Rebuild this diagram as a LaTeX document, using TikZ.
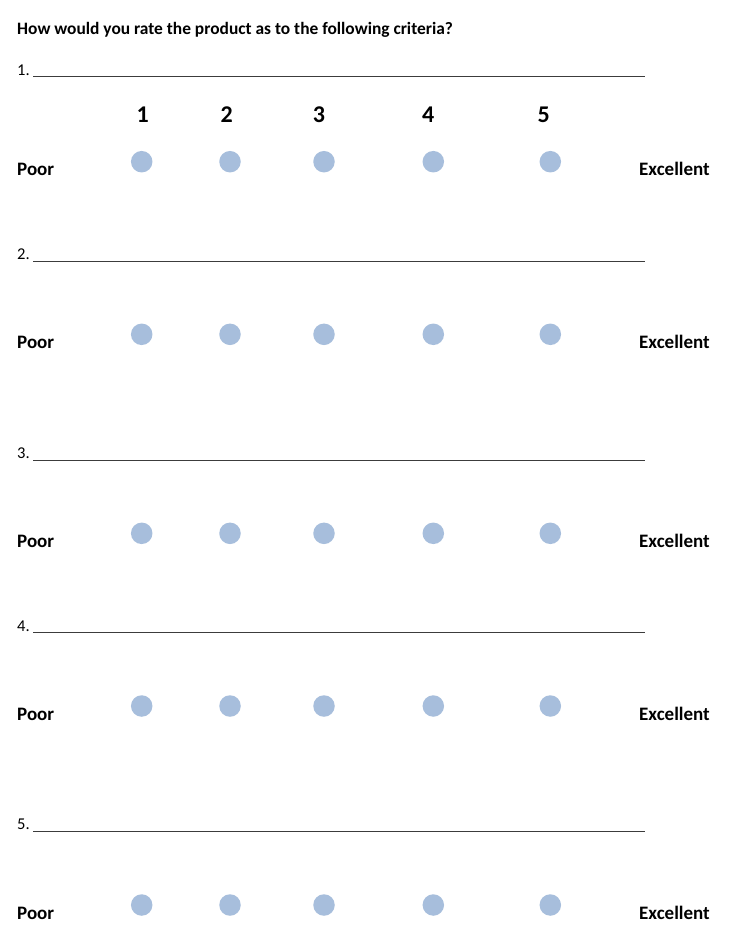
\documentclass[tikz,border=0pt]{standalone}
\usepackage{fontspec}
\setmainfont{Carlito}
\usepackage{tikz}
\usetikzlibrary{positioning}

\begin{document}
\begin{tikzpicture}[x=1pt, y=-1pt]
% Define colors
\definecolor{dotcolor}{RGB}{167, 190, 220}
\definecolor{rulecolor}{RGB}{60, 60, 60}

\tikzset{
  dot/.style={circle, fill=dotcolor, minimum size=21.5pt, inner sep=0pt},
  scalelabel/.style={anchor=base west, inner sep=0pt, font=\fontsize{19}{21}\selectfont\bfseries},
  itemlabel/.style={anchor=base west, inner sep=0pt, font=\fontsize{16.5}{19}\selectfont},
  numlabel/.style={anchor=base, inner sep=0pt, font=\fontsize{24}{27}\selectfont\bfseries},
  rule/.style={rulecolor, line width=1pt}
}

% Page
\fill[white] (0,0) rectangle (750,943);
\useasboundingbox (0,0) rectangle (750,943);

% Question
\node[anchor=base west, inner sep=0pt, font=\fontsize{17.4}{20}\selectfont\bfseries] (question) at (17,34.3) {How would you rate the product as to the following criteria?};

% Scale numbers
\foreach \n/\x in {1/142.7, 2/226.7, 3/319, 4/428.3, 5/543.7} {
    \node[numlabel] (num\n) at (\x,122.7) {\n};
}

% Criteria rows
\foreach \r/\ly/\cy in {1/76.5/161.7, 2/261/334.3, 3/460/533.3, 4/632.5/706, 5/831/905} {
    \node[itemlabel] (item\r) at (17,{\ly-1.5}) {\r.};
    \coordinate (start\r) at (33,\ly);
    \coordinate (end\r) at (645,\ly);
    \draw[rule] (start\r) -- (end\r);
    \node[scalelabel] (poor\r) at (17,{\cy+14}) {Poor};
    \node[scalelabel] (excellent\r) at (639,{\cy+14}) {Excellent};
    \foreach \c/\x in {1/141.7, 2/230, 3/324, 4/433.3, 5/550.3} {
        \node[dot] (dot\r-\c) at (\x,\cy) {};
    }
}
\end{tikzpicture}
\end{document}
